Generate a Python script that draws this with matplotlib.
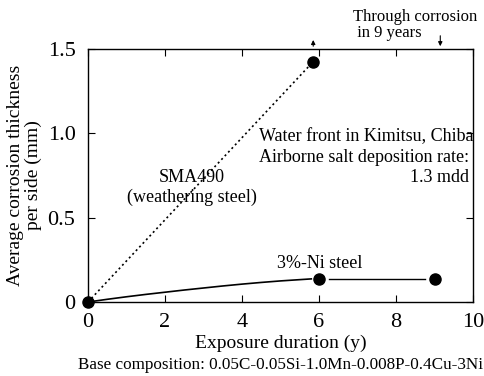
import matplotlib.pyplot as plt

plt.rcParams['font.family'] = ['Liberation Serif', 'DejaVu Serif']

# SMA490 (weathering steel)
sma_t = [0, 5.85]
sma_c = [0.0, 1.425]

# 3%-Ni steel measured points
ni_t = [0, 6.0, 9.0]
ni_c = [0.0, 0.135, 0.135]

# 3%-Ni trend curve
ni_curve_t = [0, 0.5, 1, 1.5, 2, 2.5, 3, 3.5, 4, 4.5, 5, 5.4, 5.8]
ni_curve_c = [0.0, 0.016, 0.031, 0.045, 0.058, 0.071, 0.083, 0.095,
              0.106, 0.116, 0.125, 0.131, 0.137]

fig = plt.figure(figsize=(4.84, 3.76), dpi=100)
ax = fig.add_axes([88 / 484, 1 - 302 / 376, 385 / 484, 253 / 376])

ax.plot(sma_t, sma_c, color="black", linestyle=(0, (1.2, 1.8)), linewidth=1.2)
ax.plot(ni_curve_t, ni_curve_c, color="black", linewidth=1.2)
ax.plot([6.25, 8.75], [ni_c[1], ni_c[2]], color="black", linewidth=1.0)
ax.plot(sma_t[1:], sma_c[1:], "o", color="black", markersize=8, clip_on=False)
ax.plot(ni_t, ni_c, "o", color="black", markersize=8, clip_on=False, zorder=5)

ax.set_xlim(0, 10)
ax.set_ylim(0, 1.5)
ax.set_xticks([0, 2, 4, 6, 8, 10])
ax.set_yticks([0, 0.5, 1.0, 1.5])
ax.set_yticklabels(["0", "0.5", "1.0", "1.5"])
ax.tick_params(direction="in", top=True, right=True, length=5, labelsize=16)
ax.tick_params(axis="y", pad=9)
ax.tick_params(axis="x", pad=8)

ax.set_xlabel("Exposure duration (y)", fontsize=14, labelpad=2)
ax.set_ylabel("Average corrosion thickness\nper side (mm)", fontsize=14, labelpad=4,
              linespacing=1.05)

ax.text(0.5, -0.248, "Base composition: 0.05C-0.05Si-1.0Mn-0.008P-0.4Cu-3Ni",
        transform=ax.transAxes, ha="center", va="center", fontsize=12.3)

ax.text(2.7, 0.736, "SMA490", ha="center", va="center", fontsize=13)
ax.text(2.7, 0.623, "(weathering steel)", ha="center", va="center", fontsize=13)
ax.text(6.03, 0.231, "3%-Ni steel", ha="center", va="center", fontsize=13)

ax.text(4.44, 0.979, "Water front in Kimitsu, Chiba", ha="left", va="center", fontsize=13)
ax.text(4.44, 0.855, "Airborne salt deposition rate:", ha="left", va="center", fontsize=13)
ax.text(9.9, 0.736, "1.3 mdd", ha="right", va="center", fontsize=13)

ax.annotate("", xy=(5.85, 1.57), xytext=(5.85, 1.5), annotation_clip=False,
            arrowprops=dict(arrowstyle="-|>", color="black", lw=0.8,
                            mutation_scale=6))
ax.annotate("", xy=(9.15, 1.5), xytext=(9.15, 1.595), annotation_clip=False,
            arrowprops=dict(arrowstyle="-|>", color="black", lw=0.8,
                            mutation_scale=6))
ax.text(6.88, 1.642, "Through corrosion\n in 9 years", ha="left", va="center",
        fontsize=12, linespacing=0.95, multialignment="left", clip_on=False)

for s in ax.spines.values():
    s.set_linewidth(1.0)

fig.savefig("out.png", dpi=100)
